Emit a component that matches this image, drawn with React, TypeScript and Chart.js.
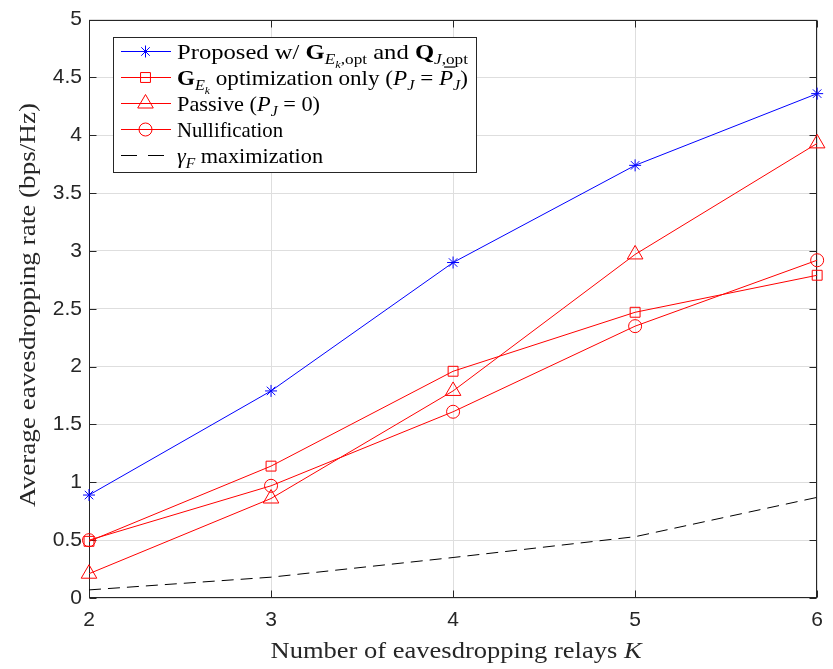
import React, { useEffect, useRef } from "react";
import { Chart, registerables } from "chart.js";

Chart.register(...registerables);

// ---- data ----
const relays = [2, 3, 4, 5, 6];
const proposedRate = [0.89, 1.79, 2.9, 3.74, 4.36];
const gOnlyRate = [0.49, 1.14, 1.96, 2.47, 2.79];
const passiveRate = [0.21, 0.86, 1.79, 2.97, 3.93];
const nullRate = [0.5, 0.97, 1.61, 2.35, 2.92];
const gammaRate = [0.07, 0.18, 0.35, 0.53, 0.87];

const xTickValues = [2, 3, 4, 5, 6];
const yTickValues = [0, 0.5, 1, 1.5, 2, 2.5, 3, 3.5, 4, 4.5, 5];
const yTickLabels = ["0", "0.5", "1", "1.5", "2", "2.5", "3", "3.5", "4", "4.5", "5"];

const yTitle = "Average eavesdropping rate (bps/Hz)";

const SERIF = '"Liberation Serif", "DejaVu Serif", serif';
const SANS = '"Liberation Sans", Arial, sans-serif';
const AXIS_COLOR = "#262626";
const GRID_COLOR = "#dedede";

type Seg = { t: string; s?: "n" | "b" | "i"; l?: 0 | 1 | 2; bar?: boolean };

const xTitleSegs: Seg[] = [{ t: "Number of eavesdropping relays " }, { t: "K", s: "i" }];

const legendEntries: { color: string; marker: string; dash: number[] | null; segs: Seg[]; w: number }[] = [
  {
    color: "#0000ff",
    marker: "star",
    dash: null,
    w: 291,
    segs: [
      { t: "Proposed w/ " },
      { t: "G", s: "b" },
      { t: "E", s: "i", l: 1 },
      { t: "k", s: "i", l: 2 },
      { t: ",opt", l: 1 },
      { t: " and " },
      { t: "Q", s: "b" },
      { t: "J", s: "i", l: 1 },
      { t: ",opt", l: 1 },
    ],
  },
  {
    color: "#ff0000",
    marker: "rect",
    dash: null,
    w: 291,
    segs: [
      { t: "G", s: "b" },
      { t: "E", s: "i", l: 1 },
      { t: "k", s: "i", l: 2 },
      { t: " optimization only (" },
      { t: "P", s: "i" },
      { t: "J", s: "i", l: 1 },
      { t: " = " },
      { t: "P", s: "i", bar: true },
      { t: "J", s: "i", l: 1 },
      { t: ")" },
    ],
  },
  {
    color: "#ff0000",
    marker: "triangle",
    dash: null,
    w: 143,
    segs: [{ t: "Passive (" }, { t: "P", s: "i" }, { t: "J", s: "i", l: 1 }, { t: " = 0)" }],
  },
  { color: "#ff0000", marker: "circle", dash: null, w: 106, segs: [{ t: "Nullification" }] },
  {
    color: "#000000",
    marker: "none",
    dash: [16, 11],
    w: 146,
    segs: [{ t: "\u03B3", s: "i" }, { t: "F", s: "i", l: 1 }, { t: " maximization" }],
  },
];

const markerSize: Record<string, number> = { star: 6, rect: 7, triangle: 9, circle: 6.5 };

function segFont(seg: Seg, base: number) {
  const size = seg.l === 2 ? base * 0.5 : seg.l === 1 ? base * 0.7 : base;
  const weight = seg.s === "b" ? "bold " : "";
  const style = seg.s === "i" ? "italic " : "";
  return { font: `${style}${weight}${size}px ${SERIF}`, size };
}

function measureRich(ctx: CanvasRenderingContext2D, segs: Seg[], base: number) {
  let w = 0;
  for (const seg of segs) {
    ctx.font = segFont(seg, base).font;
    w += ctx.measureText(seg.t).width;
  }
  return w;
}

function drawRich(
  ctx: CanvasRenderingContext2D,
  segs: Seg[],
  x: number,
  y: number,
  base: number,
  sx: number
) {
  ctx.save();
  ctx.translate(x, y);
  ctx.scale(sx, 1);
  let cx = 0;
  for (const seg of segs) {
    const { font, size } = segFont(seg, base);
    ctx.font = font;
    const dy = seg.l === 2 ? base * 0.45 : seg.l === 1 ? base * 0.28 : 0;
    ctx.fillText(seg.t, cx, dy);
    const w = ctx.measureText(seg.t).width;
    if (seg.bar) ctx.fillRect(cx + size * 0.22, -size * 0.86, w * 0.8, 1.2);
    cx += w;
  }
  ctx.restore();
}

function drawMarker(ctx: CanvasRenderingContext2D, kind: string, x: number, y: number, r: number) {
  ctx.beginPath();
  if (kind === "star") {
    for (let k = 0; k < 4; k++) {
      const a = (k * Math.PI) / 4;
      ctx.moveTo(x + Math.cos(a) * r, y + Math.sin(a) * r);
      ctx.lineTo(x - Math.cos(a) * r, y - Math.sin(a) * r);
    }
  } else if (kind === "rect") {
    const h = r * Math.SQRT1_2;
    ctx.rect(x - h, y - h, 2 * h, 2 * h);
  } else if (kind === "triangle") {
    let a = 0;
    ctx.moveTo(x + Math.sin(a) * r, y - Math.cos(a) * r);
    a += (2 * Math.PI) / 3;
    ctx.lineTo(x + Math.sin(a) * r, y - Math.cos(a) * r);
    a += (2 * Math.PI) / 3;
    ctx.lineTo(x + Math.sin(a) * r, y - Math.cos(a) * r);
    ctx.closePath();
  } else if (kind === "circle") {
    ctx.arc(x, y, r, 0, Math.PI * 2);
  }
  ctx.stroke();
}

const framePlugin = {
  id: "matlabFrame",
  beforeDatasetsDraw(chart: any) {
    const { ctx, chartArea: a, scales } = chart;
    const L = Math.round(a.left) + 0.5;
    const R = Math.round(a.right) - 0.5;
    const T = Math.round(a.top) + 0.5;
    const B = Math.round(a.bottom) - 0.5;
    ctx.save();
    ctx.strokeStyle = AXIS_COLOR;
    ctx.lineWidth = 1;
    ctx.strokeRect(L, T, R - L, B - T);
    ctx.beginPath();
    const tl = 7;
    for (const v of xTickValues) {
      const px = Math.round(scales.x.getPixelForValue(v)) + 0.5;
      ctx.moveTo(px, B);
      ctx.lineTo(px, B - tl);
      ctx.moveTo(px, T);
      ctx.lineTo(px, T + tl);
    }
    for (const v of yTickValues) {
      const py = Math.round(scales.y.getPixelForValue(v)) + 0.5;
      ctx.moveTo(L, py);
      ctx.lineTo(L + tl, py);
      ctx.moveTo(R, py);
      ctx.lineTo(R - tl, py);
    }
    ctx.stroke();
    ctx.restore();
  },
  afterDraw(chart: any) {
    const { ctx, chartArea: a } = chart;
    ctx.save();
    ctx.fillStyle = AXIS_COLOR;
    ctx.textBaseline = "alphabetic";
    ctx.textAlign = "left";

    // x title (stretched to the reference width, serif like Computer Modern)
    const xb = 24;
    const xTarget = 371;
    const xw = measureRich(ctx, xTitleSegs, xb);
    drawRich(ctx, xTitleSegs, (a.left + a.right) / 2 + 3 - xTarget / 2, 658, xb, xTarget / xw);

    // y title
    ctx.save();
    ctx.font = `24px ${SERIF}`;
    const yw = ctx.measureText(yTitle).width;
    const yTarget = 404;
    ctx.translate(35, 305);
    ctx.rotate(-Math.PI / 2);
    ctx.scale(yTarget / yw, 1);
    ctx.textAlign = "center";
    ctx.fillText(yTitle, 0, 0);
    ctx.restore();

    // legend
    const bx = 113.5, by = 37.5, bw = 363, bh = 135;
    ctx.fillStyle = "#ffffff";
    ctx.fillRect(bx, by, bw, bh);
    ctx.strokeStyle = AXIS_COLOR;
    ctx.lineWidth = 1;
    ctx.strokeRect(bx, by, bw, bh);
    const lb = 21;
    legendEntries.forEach((e, i) => {
      const cy = 51.5 + i * 26;
      ctx.strokeStyle = e.color;
      ctx.lineWidth = 1;
      ctx.setLineDash(e.dash || []);
      ctx.beginPath();
      ctx.moveTo(121, cy);
      ctx.lineTo(171, cy);
      ctx.stroke();
      ctx.setLineDash([]);
      if (e.marker !== "none") drawMarker(ctx, e.marker, 145.5, cy, markerSize[e.marker]);
      ctx.fillStyle = "#000000";
      ctx.textAlign = "left";
      const sx = e.w / measureRich(ctx, e.segs, lb);
      drawRich(ctx, e.segs, 177, cy + 7, lb, sx);
    });
    ctx.restore();
  },
};

function series(label: string, values: number[], color: string, marker: string | false, dash?: number[]) {
  return {
    label,
    data: relays.map((x, i) => ({ x, y: values[i] })),
    borderColor: color,
    backgroundColor: color,
    borderWidth: 1,
    borderDash: dash || [],
    pointStyle: marker || "circle",
    pointRadius: marker ? markerSize[marker] : 0,
    pointBorderColor: color,
    pointBackgroundColor: "rgba(0,0,0,0)",
    pointBorderWidth: 1,
    clip: false as any,
    tension: 0,
  };
}

export default function App() {
  const ref = useRef<HTMLCanvasElement | null>(null);
  useEffect(() => {
    document.body.style.margin = "0";
    if (!ref.current) return;
    const chart = new Chart(ref.current, {
      type: "line",
      data: {
        datasets: [
          series("gamma", gammaRate, "#000000", false, [12, 7]),
          series("null", nullRate, "#ff0000", "circle"),
          series("passive", passiveRate, "#ff0000", "triangle"),
          series("gonly", gOnlyRate, "#ff0000", "rect"),
          series("proposed", proposedRate, "#0000ff", "star"),
        ] as any,
      },
      options: {
        responsive: false,
        animation: false,
        events: [],
        layout: { padding: { top: 15, right: 11, left: 0, bottom: 0 } },
        plugins: { legend: { display: false }, tooltip: { enabled: false } },
        scales: {
          x: {
            type: "linear",
            min: 2,
            max: 6,
            afterBuildTicks: (s: any) => {
              s.ticks = xTickValues.map((v) => ({ value: v }));
            },
            ticks: {
              font: { family: SANS, size: 21 },
              color: AXIS_COLOR,
              padding: 10,
              maxRotation: 0,
              callback: (v: any) => String(v),
            },
            grid: { color: GRID_COLOR, drawTicks: false, lineWidth: 1 },
            border: { display: false },
            afterFit: (s: any) => {
              s.height = 71;
            },
          },
          y: {
            type: "linear",
            min: 0,
            max: 5,
            afterBuildTicks: (s: any) => {
              s.ticks = yTickValues.map((v) => ({ value: v }));
            },
            ticks: {
              font: { family: SANS, size: 21 },
              color: AXIS_COLOR,
              padding: 7,
              callback: (v: any) => yTickLabels[yTickValues.indexOf(Number(v))] ?? String(v),
            },
            grid: { color: GRID_COLOR, drawTicks: false, lineWidth: 1 },
            border: { display: false },
            afterFit: (s: any) => {
              s.width = 89;
            },
          },
        },
      },
      plugins: [framePlugin],
    });
    return () => chart.destroy();
  }, []);
  return (
    <div style={{ width: 833, height: 669, background: "#fff" }}>
      <canvas ref={ref} width={833} height={669} style={{ display: "block" }} />
    </div>
  );
}
